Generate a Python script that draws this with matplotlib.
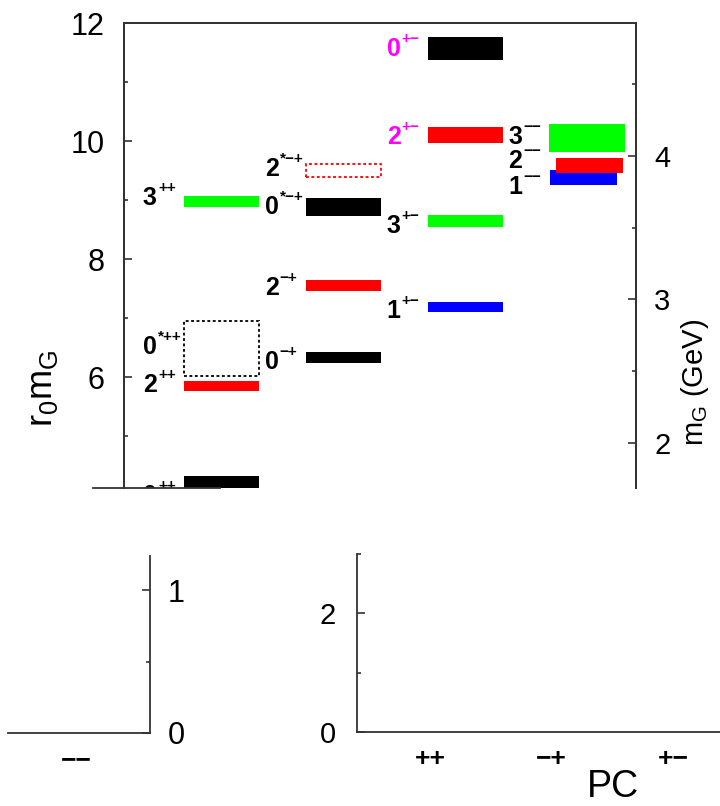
import matplotlib
matplotlib.use("Agg")
import matplotlib.pyplot as plt
from matplotlib.patches import Rectangle
from matplotlib.lines import Line2D
from matplotlib.transforms import offset_copy

plt.rcParams['font.family'] = ['Liberation Sans', 'DejaVu Sans']
plt.rcParams['mathtext.fontset'] = 'custom'
plt.rcParams['mathtext.rm'] = 'Liberation Sans'
plt.rcParams['mathtext.it'] = 'Liberation Sans:italic'

# PC classes (columns of the spectrum)
pc_classes = ['++', '−+', '+−', '−−']

# glueball states (r0 * mG)
state_pc = [0, 0, 0, 0, 1, 1, 1, 1, 2, 2, 2, 2, 3, 3, 3]
state_j = ['0', '2', '0', '3', '0', '2', '0', '2', '1', '3', '2', '0', '1', '2', '3']
state_sup = ['++', '++', '*++', '++', '−+', '−+', '*−+', '*−+',
             '+−', '+−', '+−', '+−', '−−', '−−', '−−']
state_mass = [4.21, 5.85, 6.48, 8.97, 6.33, 7.55, 8.88, 9.50,
              7.18, 8.65, 10.10, 11.57, 9.38, 9.59, 10.05]
state_err = [0.11, 0.08, 0.47, 0.09, 0.09, 0.10, 0.15, 0.11,
             0.085, 0.10, 0.13, 0.19, 0.13, 0.13, 0.24]
label_y = [3.98, 5.86, 6.51, 9.03, 6.25, 7.51, 8.88, 9.53,
           7.12, 8.56, 10.07, 11.56, 9.22, 9.66, 10.07]

open_states = [2, 7]          # drawn as dotted outlines
magenta_labels = [10, 11]
bar_shift = {12: (-0.034, 0.275), 13: (0.016, 0.275)}

r0_gev = 2.438                # r0*mG per GeV
ylo, yhi = 4.119, 12.0

j_colors = {'0': 'black', '1': '#0000ff', '2': '#ff0000', '3': '#00ff00'}
spine_c = '#333333'

W, H = 720, 806
fig = plt.figure(figsize=(W / 100, H / 100), dpi=100)


def fig_rect(left, top, right, bottom):
    return [left / W, 1 - bottom / H, (right - left) / W, (bottom - top) / H]


# ---------------- main spectrum panel ----------------
ax = fig.add_axes(fig_rect(124, 23, 636, 488))
ax.set_xlim(0, 4.2)
ax.set_ylim(ylo, yhi)
for s in ['left', 'right', 'top']:
    ax.spines[s].set_color(spine_c)
    ax.spines[s].set_linewidth(1.3)
ax.spines['bottom'].set_visible(False)
ax.set_xticks([])
ax.set_yticks([6, 8, 10, 12])
ax.set_yticks([5, 7, 9, 11], minor=True)
ax.tick_params(axis='y', which='both', direction='in', color=spine_c,
               width=1.2, labelsize=22, pad=14)
ax.tick_params(axis='y', which='major', length=6)
ax.tick_params(axis='y', which='minor', length=3)

for i in range(len(state_mass)):
    xc = 0.8 + state_pc[i]
    half = 0.31
    if i in bar_shift:
        dx, half = bar_shift[i]
        xc += dx
    y0 = state_mass[i] - state_err[i]
    col = j_colors[state_j[i]]
    if i in open_states:
        ax.add_patch(Rectangle((xc - half, y0), 2 * half, 2 * state_err[i],
                               fill=False, edgecolor=col, lw=1.3,
                               linestyle=(0, (1.6, 1.4))))
    else:
        ax.add_patch(Rectangle((xc - half, y0), 2 * half, 2 * state_err[i],
                               facecolor=col, edgecolor='none'))
    tcol = '#ff00ff' if i in magenta_labels else 'black'
    lx = 0.8 + state_pc[i] - 0.645
    ax.text(lx, label_y[i], state_j[i], fontsize=18, fontweight='bold',
            color=tcol, ha='left', va='center', clip_on=True)
    sup_tr = offset_copy(ax.transData, fig=fig, x=15, y=10, units='dots')
    ax.text(lx, label_y[i], state_sup[i], fontsize=11, fontweight='bold',
            color=tcol, ha='left', va='center', transform=sup_tr, clip_on=True)

ax.set_ylabel(r'$\mathrm{r_0m_G}$', fontsize=26)
ax.yaxis.label.set_va('center')
ax.yaxis.set_label_coords(-0.160, 0.215)

ax2 = ax.twinx()
ax2.set_ylim(ylo / r0_gev, yhi / r0_gev)
ax2.spines['bottom'].set_visible(False)
for s in ['left', 'right', 'top']:
    ax2.spines[s].set_color(spine_c)
    ax2.spines[s].set_linewidth(1.3)
ax2.set_yticks([2, 3, 4])
ax2.set_yticks([2.5, 3.5, 4.5], minor=True)
ax2.tick_params(axis='y', which='both', direction='in', color=spine_c,
                width=1.2, labelsize=21, pad=13)
ax2.tick_params(axis='y', which='major', length=6)
ax2.tick_params(axis='y', which='minor', length=3)
ax2.set_ylabel(r'$\mathrm{m_G}$ (GeV)', fontsize=21)
ax2.yaxis.label.set_va('center')
ax2.yaxis.set_label_coords(1.115, 0.228)

# stray piece of the old bottom axis line
fig.add_artist(Line2D([93 / W, 220 / W], [1 - 488 / H] * 2,
                      transform=fig.transFigure, color=spine_c, lw=1.3))

# ---------------- lower-left fragment (GeV scale) ----------------
ax3 = fig.add_axes(fig_rect(8, 556, 150, 733))
ax3.set_xlim(0, 142 / 122)
ax3.set_ylim(0, 177 / 143)
ax3.spines['left'].set_visible(False)
ax3.spines['top'].set_visible(False)
for s in ['right', 'bottom']:
    ax3.spines[s].set_color(spine_c)
    ax3.spines[s].set_linewidth(1.3)
ax3.yaxis.tick_right()
ax3.set_yticks([0, 1])
ax3.set_yticks([0.5], minor=True)
ax3.tick_params(axis='y', which='both', direction='in', color=spine_c,
                width=1.2, labelsize=22, pad=13)
ax3.tick_params(axis='y', which='major', length=6)
ax3.tick_params(axis='y', which='minor', length=3)
ax3.set_xticks([68 / 122])
ax3.set_xticklabels([pc_classes[3]], fontsize=19, fontweight='bold')
ax3.tick_params(axis='x', length=0, pad=11)

# ---------------- lower-right fragment (r0 mG scale) ----------------
ax4 = fig.add_axes(fig_rect(357, 553.5, 720, 732))
ax4.set_xlim(0, 363 / 121.5)
ax4.set_ylim(0, 3)
ax4.spines['right'].set_visible(False)
ax4.spines['top'].set_visible(False)
for s in ['left', 'bottom']:
    ax4.spines[s].set_color(spine_c)
    ax4.spines[s].set_linewidth(1.3)
ax4.set_yticks([0, 2])
ax4.set_yticks([1, 3], minor=True)
ax4.tick_params(axis='y', which='both', direction='in', color=spine_c,
                width=1.2, labelsize=21, pad=15)
ax4.tick_params(axis='y', which='major', length=6)
ax4.tick_params(axis='y', which='minor', length=3)
ax4.set_xticks([0.6, 1.6, 2.6])
ax4.set_xticklabels(pc_classes[:3], fontsize=19, fontweight='bold')
ax4.tick_params(axis='x', length=0, pad=11)
ax4.set_xlabel('PC', fontsize=27)
ax4.xaxis.label.set_va('center')
ax4.xaxis.set_label_coords(0.705, -0.308)

fig.savefig('out.png', dpi=100)
